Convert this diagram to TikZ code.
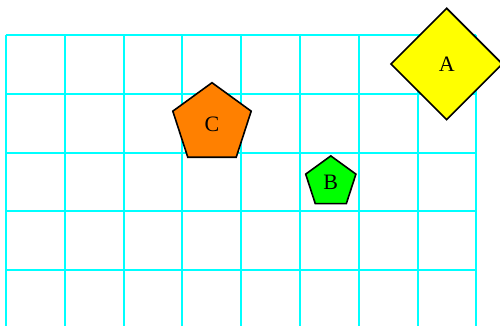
\documentclass[tikz,border=0pt]{standalone}
\usepackage{fontspec}
\setmainfont{Liberation Serif}
\usetikzlibrary{shapes.geometric}
\definecolor{gridcyan}{HTML}{00FFFF}
\definecolor{shapeorange}{HTML}{FF8000}
\definecolor{shapegreen}{HTML}{00FF00}
\definecolor{shapeyellow}{HTML}{FFFF00}
\begin{document}
\begin{tikzpicture}[x=0.5pt,y=-0.5pt,
  gridline/.style={draw=gridcyan,line width=1pt},
  shapebox/.style={draw=black,line width=0.8pt,inner sep=0pt,font=\fontsize{11}{13}\selectfont},
  pent/.style={shapebox,regular polygon,regular polygon sides=5}]
\useasboundingbox (0,0) rectangle (500,326);
\clip (0,0) rectangle (500,326);
\foreach \i in {0,...,8}
  \draw[gridline] ({6+58.8*\i},35) -- ({6+58.8*\i},330);
\foreach \j in {0,...,4}
  \draw[gridline] (6,{35+58.8*\j}) -- (476.4,{35+58.8*\j});
\node[shapebox,diamond,fill=shapeyellow,minimum width=56pt,minimum height=56pt,aspect=1] (A) at (446.7,64) {\raisebox{-1pt}{A}};
\node[pent,fill=shapegreen,minimum size=26.4pt] (B) at (330.8,182.3) {B};
\node[pent,fill=shapeorange,minimum size=41.2pt] (C) at (212,123.9) {C};
\end{tikzpicture}
\end{document}
